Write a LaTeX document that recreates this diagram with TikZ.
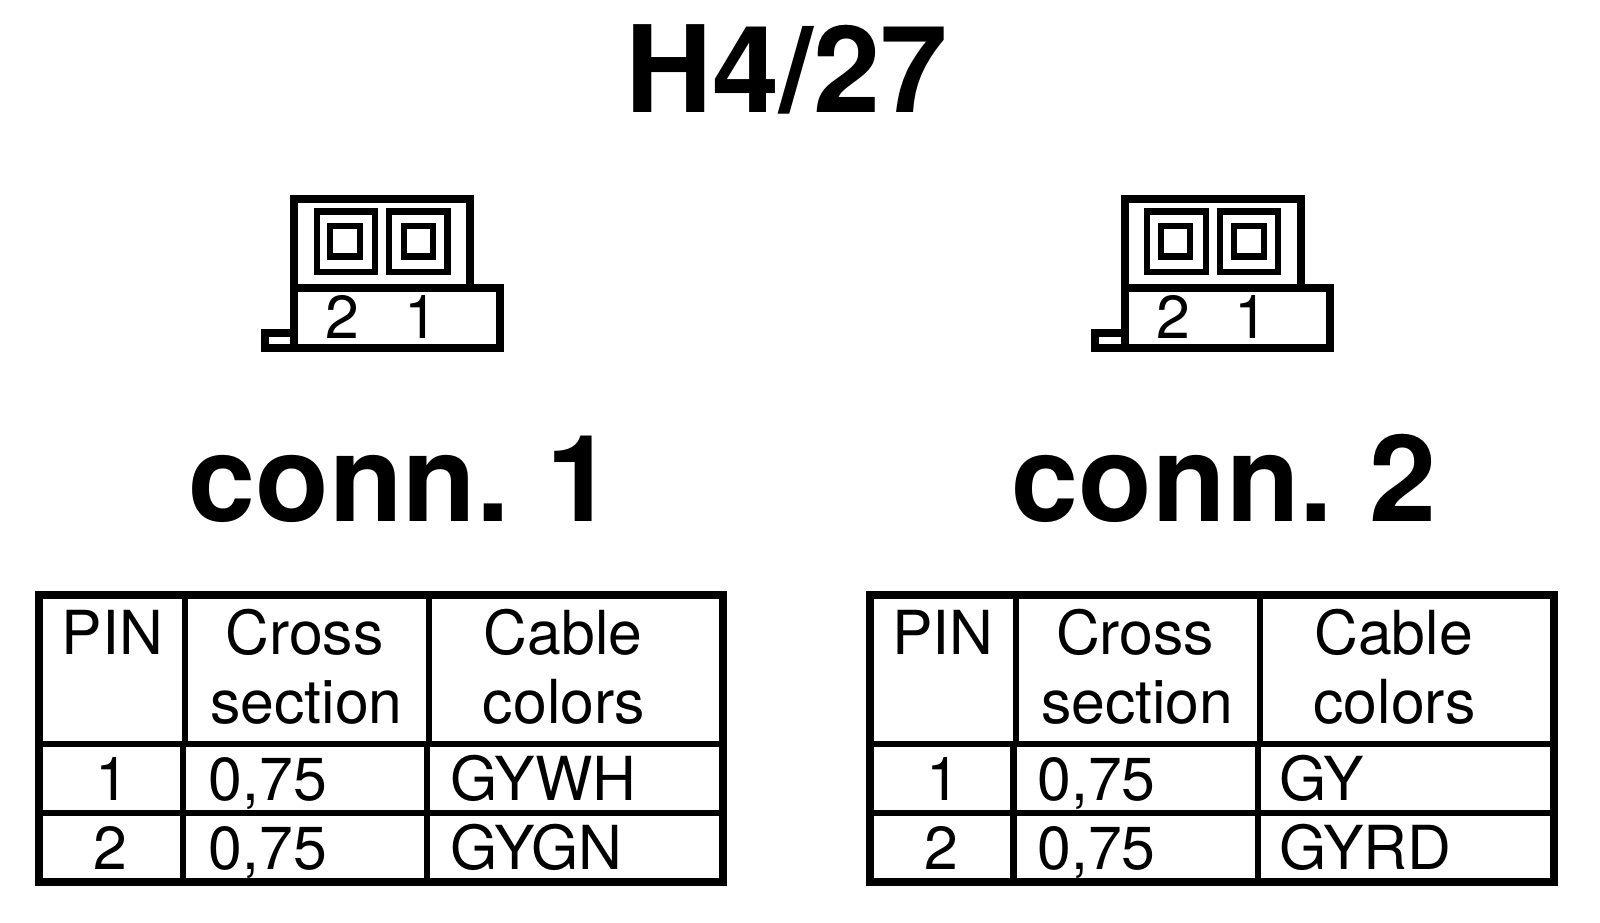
\documentclass[tikz,border=0pt]{standalone}
\usepackage{fontspec}
\setmainfont{TeX Gyre Heros}
\tikzset{
  heavy/.style={line width=4pt,line cap=rect},
  thin rule/.style={line width=3pt},
  cell/.style={inner sep=0pt,anchor=base,font=\fontsize{29.7}{30}\selectfont},
  leftcell/.style={cell,anchor=base west},
  big/.style={inner sep=0pt,anchor=base,font=\fontsize{59}{60}\bfseries\selectfont},
}
% one connector with its table, shifted as a whole
\newcommand{\connblock}[6]{%
\begin{scope}[xshift=#1*0.5pt]
  \draw[heavy] (288,195) rectangle (460,282);
  \draw[heavy] (288,282) rectangle (489,341);
  \draw[heavy] (288,341) -- (259,341) -- (259,326) -- (288,326);
  \foreach \sx/\ix in {310/323,381/395} {
    \draw[thin rule] (\sx,207) rectangle +(57,59);
    \draw[thin rule] (\ix,221) rectangle +(29,30);
  }
  \node[cell] (pintwo#2) at (335,331) {2};
  \node[cell] (pinone#2) at (412,331) {1};
  % table frame and rules
  \draw[heavy] (38.5,582) rectangle (708,863);
  \draw[thin rule] (38.5,728) -- (708,728);
  \draw[thin rule] (38.5,796) -- (708,796);
  \draw[thin rule] (181,582) -- (181,728);
  \draw[thin rule] (420,582) -- (420,728);
  \draw[thin rule] (179,728) -- (179,863);
  \draw[thin rule] (418,728) -- (418,863);
  \node[cell] (pin#2) at (110,641) {PIN};
  \node[cell] (cross#2) at (298,641) {Cross};
  \node[cell] (section#2) at (300,708) {section};
  \node[cell] (cable#2) at (551,641) {Cable};
  \node[cell] (colors#2) at (552,708) {colors};
  \node[cell] (rowone#2) at (110,783) {1};
  \node[leftcell] (areaone#2) at (204+#6,783) {#3};
  \node[leftcell] (colorone#2) at (441+#6,783) {#4};
  \node[cell] (rowtwo#2) at (108,851) {2};
  \node[leftcell] (areatwo#2) at (204+#6,851) {#3};
  \node[leftcell] (colortwo#2) at (441+#6,851) {#5};
\end{scope}}

\begin{document}
\begin{tikzpicture}[x=0.5pt,y=-0.5pt]
  \useasboundingbox (0,0) rectangle (1566,902.5);
  \node[big] (title) at (770,110) {H4/27};
  \node[big,anchor=base west] (nameone) at (184,510) {conn.\hspace{-4pt} 1};
  \node[big,anchor=base west] (nametwo) at (990,510) {conn.\hspace{-4pt} 2};
  \connblock{0}{1}{0,75}{GYWH}{GYGN}{0}
  \connblock{813}{2}{0,75}{GY}{GYRD}{-2}
\end{tikzpicture}
\end{document}
